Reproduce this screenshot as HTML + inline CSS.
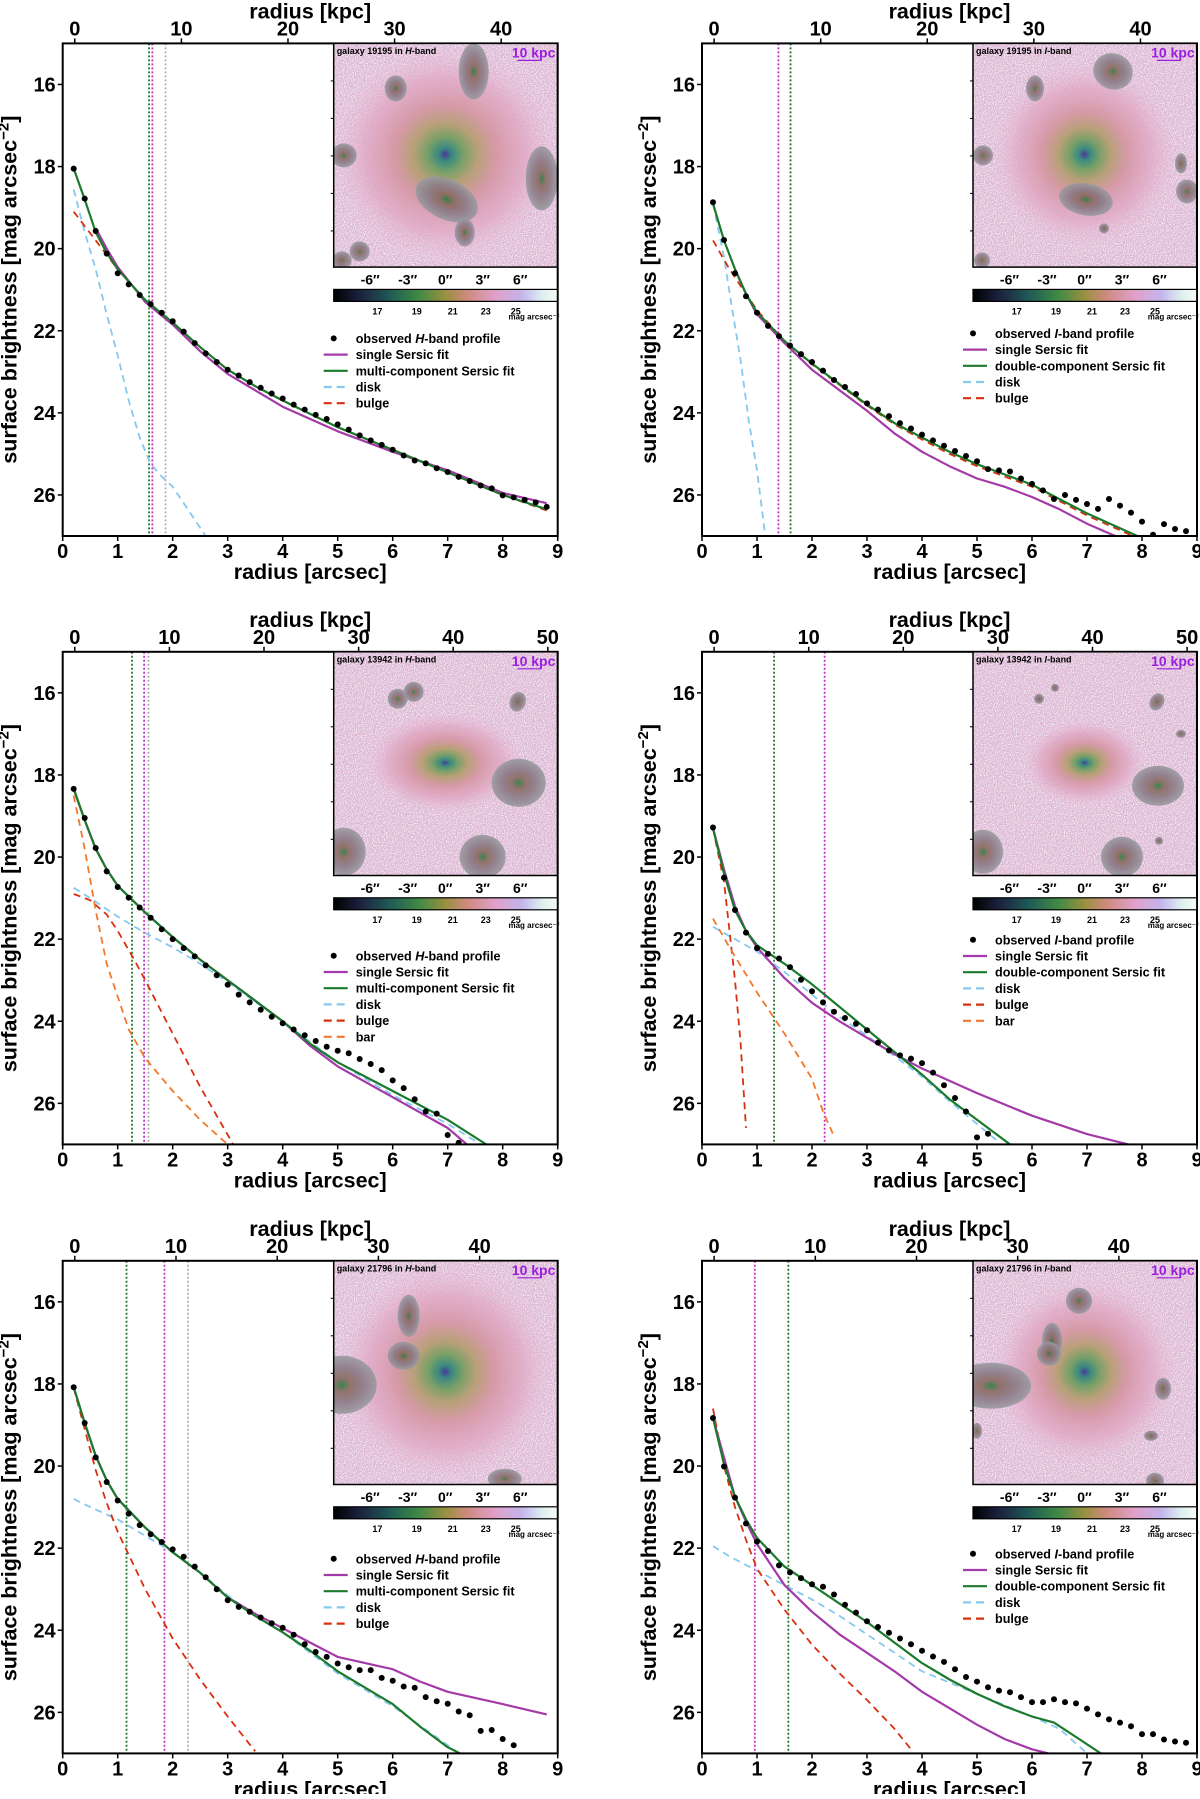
<!DOCTYPE html>
<html><head><meta charset="utf-8">
<style>
html,body{margin:0;padding:0;background:#fff;}
svg text{font-family:"Liberation Sans","DejaVu Sans",sans-serif;font-weight:bold;fill:#000;}
</style></head>
<body>
<svg id="fig" xmlns="http://www.w3.org/2000/svg" width="1200" height="1794" viewBox="0 0 1200 1794">
<defs>
<linearGradient id="cbar" x1="0" x2="1" y1="0" y2="0">
<stop offset="0" stop-color="#000"/><stop offset="0.12" stop-color="#1c2240"/><stop offset="0.25" stop-color="#1f5a55"/><stop offset="0.38" stop-color="#3f8a45"/><stop offset="0.5" stop-color="#9a9040"/><stop offset="0.6" stop-color="#cf8a80"/><stop offset="0.72" stop-color="#e0a0c8"/><stop offset="0.84" stop-color="#c4b4ec"/><stop offset="0.93" stop-color="#dceef0"/><stop offset="1" stop-color="#f6fbf6"/>
</linearGradient>
<radialGradient id="gal">
<stop offset="0" stop-color="#4a3a9a"/><stop offset="0.06" stop-color="#3a8a80"/><stop offset="0.16" stop-color="#7aa068"/><stop offset="0.28" stop-color="#b8a078"/><stop offset="0.45" stop-color="#d69aa8"/><stop offset="0.7" stop-color="#e0a6c2" stop-opacity="0.75"/><stop offset="1" stop-color="#e8c0dc" stop-opacity="0"/>
</radialGradient>
<radialGradient id="obj">
<stop offset="0" stop-color="#2a7a40"/><stop offset="0.25" stop-color="#8a6a60"/><stop offset="0.6" stop-color="#8a7a86"/><stop offset="1" stop-color="#9a9aa0"/>
</radialGradient>
<filter id="noise" x="0" y="0" width="100%" height="100%">
<feTurbulence type="fractalNoise" baseFrequency="0.9" numOctaves="1" seed="3"/>
<feColorMatrix values="0 0 0 0 1  0 0 0 0 1  0 0 0 0 1  3.2 0 0 0 -1.35"/>
</filter>
</defs>
</svg>
<script>
const RGRID=[0.2,0.4,0.6,0.8,1.0,1.2,1.4,1.6,1.8,2.0,2.2,2.4,2.6,2.8,3.0,3.2,3.4,3.6,3.8,4.0,4.2,4.4,4.6,4.8,5.0,5.2,5.4,5.6,5.8,6.0,6.2,6.4,6.6,6.8,7.0,7.2,7.4,7.6,7.8,8.0,8.2,8.4,8.6,8.8];

const P1_obs=[18.05,18.78,19.57,20.12,20.6,20.87,21.13,21.35,21.56,21.77,22.02,22.3,22.55,22.76,22.95,23.09,23.25,23.39,23.53,23.65,23.8,23.92,24.05,24.15,24.28,24.41,24.55,24.67,24.78,24.9,25.04,25.16,25.23,25.35,25.44,25.56,25.66,25.77,25.84,26.01,26.06,26.12,26.18,26.29];
const P1_singleR=[0.6,0.8,1,1.5,2,2.5,3,3.5,4,5,6,7,8,8.8];
const P1_single=[19.5,20.0,20.45,21.3,21.85,22.5,23.05,23.45,23.85,24.45,24.95,25.4,25.95,26.2];
const P1_multiR=[0.2,0.4,0.6,0.8,1,1.5,2,2.5,3,3.5,4,5,6,7,8,8.8];
const P1_multi=[18.05,18.8,19.6,20.1,20.5,21.25,21.8,22.4,22.95,23.35,23.7,24.35,24.9,25.45,26.0,26.35];
const P1_diskR=[0.2,0.4,0.6,0.8,1.0,1.2,1.4,1.6,1.8,2.0,2.3,2.6];
const P1_disk=[18.56,19.6,20.5,21.6,22.6,23.7,24.6,25.25,25.55,25.8,26.4,27.0];
const P1_bulgeR=[0.2,0.6,1,1.5,2,2.5,3,3.5,4,5,6,7,8,8.8];
const P1_bulge=[19.1,19.8,20.5,21.25,21.8,22.4,22.95,23.35,23.7,24.35,24.9,25.45,26.0,26.38];
const P1_vlines=[1.57,1.63,1.87];

const P2_obs=[18.87,19.79,20.6,21.16,21.56,21.88,22.13,22.36,22.57,22.76,22.97,23.2,23.37,23.54,23.77,23.92,24.08,24.25,24.38,24.53,24.67,24.8,24.93,25.05,25.18,25.37,25.4,25.43,25.6,25.73,25.89,26.1,26.0,26.12,26.22,26.34,26.1,26.26,26.43,26.65,26.97,26.71,26.83,26.88];
const P2_multiR=[0.2,0.4,0.6,0.8,1,1.5,2,2.5,3,3.5,4,4.5,5,5.5,6,6.5,7,7.5,8];
const P2_multi=[18.9,19.8,20.5,21.1,21.55,22.25,22.8,23.3,23.8,24.25,24.6,24.95,25.25,25.5,25.75,26.1,26.45,26.75,27.05];
const P2_singleR=[0.6,0.8,1,1.5,2,2.5,3,3.5,4,4.5,5,5.5,6,6.5,7,7.6];
const P2_single=[20.5,21.1,21.6,22.3,22.95,23.45,23.95,24.5,24.95,25.3,25.6,25.8,26.05,26.35,26.7,27.05];
const P2_diskR=[0.2,0.4,0.55,0.7,0.85,1.0,1.15];
const P2_disk=[18.9,20.2,21.5,22.7,24.2,25.4,27.0];
const P2_bulgeR=[0.2,0.5,1,1.5,2,2.5,3,3.5,4,4.5,5,5.5,6,6.5,7,7.5,8];
const P2_bulge=[19.8,20.5,21.5,22.25,22.82,23.32,23.82,24.28,24.65,25.0,25.3,25.55,25.8,26.15,26.5,26.8,27.1];
const P2_vlines=[1.39,1.61];

const P3_obs=[18.34,19.05,19.78,20.35,20.73,20.99,21.23,21.48,21.76,22.0,22.22,22.42,22.64,22.88,23.11,23.35,23.54,23.72,23.89,24.05,24.2,24.34,24.48,24.62,24.72,24.78,24.92,25.04,25.19,25.44,25.63,25.9,26.2,26.25,26.77,26.96];
const P3_multiR=[0.2,0.4,0.6,0.8,1,1.5,2,2.5,3,3.5,4,4.5,5,6,7,7.7];
const P3_multi=[18.34,19.1,19.8,20.3,20.7,21.35,21.95,22.5,23.0,23.5,24.0,24.55,25.0,25.7,26.4,27.0];
const P3_singleR=[0.2,0.4,0.6,0.8,1,1.5,2,2.5,3,3.5,4,4.5,5,6,7,7.35];
const P3_single=[18.34,19.1,19.8,20.3,20.7,21.35,21.95,22.5,23.0,23.5,24.0,24.6,25.1,25.85,26.6,27.0];
const P3_diskR=[0.2,0.5,1,1.5,2,2.5,3,4,5,6,7,7.6];
const P3_disk=[20.75,21.0,21.45,21.85,22.2,22.6,23.05,24.0,25.0,25.8,26.5,27.0];
const P3_bulgeR=[0.2,0.5,0.8,1,1.3,1.5,2,2.5,3.1];
const P3_bulge=[20.9,21.05,21.4,21.8,22.5,23.0,24.3,25.6,27.0];
const P3_barR=[0.2,0.4,0.6,0.8,1.0,1.2,1.5,2.0,2.5,3.0];
const P3_bar=[18.5,19.8,21.3,22.6,23.4,24.2,24.9,25.7,26.4,27.0];
const P3_vlines=[1.26,1.48,1.56];

const P4_obs=[19.28,20.5,21.29,21.84,22.22,22.36,22.47,22.68,22.99,23.27,23.54,23.77,23.92,24.06,24.22,24.52,24.71,24.83,24.91,25.02,25.25,25.56,25.87,26.2,26.83,26.74];
const P4_multiR=[0.2,0.4,0.6,0.8,1,1.5,2,2.5,3,3.5,4,4.5,5,5.6];
const P4_multi=[19.3,20.4,21.3,21.8,22.15,22.6,23.1,23.65,24.2,24.75,25.3,25.9,26.4,27.0];
const P4_singleR=[0.2,0.4,0.6,0.8,1,1.5,2,2.5,3,3.5,4,5,6,7,7.75];
const P4_single=[19.3,20.3,21.2,21.8,22.2,22.95,23.55,24.0,24.4,24.8,25.15,25.75,26.3,26.75,27.0];
const P4_diskR=[0.2,1,1.5,2,2.5,3,3.5,4,4.5,5,5.4];
const P4_disk=[21.7,22.3,22.8,23.35,23.9,24.35,24.85,25.35,25.95,26.5,26.95];
const P4_bulgeR=[0.2,0.4,0.5,0.6,0.7,0.8];
const P4_bulge=[19.3,20.6,21.8,23.0,24.5,26.6];
const P4_barR=[0.2,0.5,1,1.5,2,2.2,2.4];
const P4_bar=[21.5,22.2,23.3,24.3,25.4,26.2,26.8];
const P4_vlines=[1.31,2.23];

const P5_obs=[18.08,18.95,19.79,20.39,20.84,21.16,21.44,21.66,21.85,22.03,22.21,22.45,22.71,23.0,23.27,23.43,23.55,23.69,23.83,23.94,24.11,24.34,24.53,24.65,24.81,24.9,24.97,24.97,25.16,25.23,25.37,25.4,25.63,25.73,25.79,25.98,26.07,26.45,26.43,26.65,26.8];
const P5_multiR=[0.2,0.4,0.6,0.8,1,1.5,2,2.5,3,3.5,4,4.5,5,5.5,6,6.5,7,7.3];
const P5_multi=[18.08,18.95,19.75,20.35,20.8,21.5,22.1,22.6,23.2,23.65,24.05,24.5,25.0,25.4,25.8,26.35,26.85,27.05];
const P5_singleR=[0.2,0.4,0.6,0.8,1,1.5,2,2.5,3,3.5,4,4.5,5,5.5,6,6.5,7,8,8.8];
const P5_single=[18.08,18.95,19.75,20.35,20.8,21.5,22.1,22.6,23.2,23.6,23.95,24.3,24.65,24.8,24.95,25.25,25.5,25.8,26.05];
const P5_diskR=[0.2,0.5,1,1.5,2,2.5,3,3.5,4,5,6,7,7.2];
const P5_disk=[20.8,21.0,21.3,21.7,22.1,22.6,23.15,23.65,24.05,25.05,25.85,26.8,27.0];
const P5_bulgeR=[0.2,0.4,0.6,0.8,1,1.5,2,2.5,3,3.5];
const P5_bulge=[18.1,19.1,20.1,20.9,21.6,23.0,24.2,25.2,26.1,26.95];
const P5_vlines=[1.16,1.85,2.28];

const P6_obs=[18.83,20.01,20.77,21.4,21.84,22.07,22.42,22.59,22.73,22.88,22.94,23.13,23.38,23.57,23.78,23.92,24.06,24.2,24.34,24.5,24.64,24.77,24.95,25.14,25.25,25.39,25.47,25.51,25.63,25.75,25.75,25.68,25.75,25.78,25.91,26.05,26.17,26.25,26.34,26.53,26.53,26.66,26.71,26.74];
const P6_multiR=[0.2,0.4,0.6,0.8,1,1.5,2,2.5,3,3.5,4,4.5,5,5.5,6,6.4,6.8,7.25];
const P6_multi=[18.83,19.95,20.75,21.3,21.75,22.45,22.9,23.35,23.8,24.3,24.8,25.2,25.55,25.85,26.1,26.25,26.6,27.0];
const P6_singleR=[0.2,0.6,0.8,1,1.5,2,2.5,3,3.5,4,4.5,5,5.5,6,6.3];
const P6_single=[18.83,20.75,21.35,21.9,22.9,23.55,24.1,24.55,25.0,25.5,25.9,26.3,26.65,26.9,27.0];
const P6_diskR=[0.2,0.5,1,1.5,2,2.5,3,3.5,4,5,6,6.5,7];
const P6_disk=[21.95,22.2,22.55,22.9,23.25,23.65,24.1,24.55,25.0,25.55,26.1,26.4,27.0];
const P6_bulgeR=[0.2,0.4,0.6,0.8,1,1.5,2,2.5,3,3.5,3.8];
const P6_bulge=[18.6,20.0,21.0,21.8,22.5,23.5,24.35,25.05,25.7,26.4,26.9];
const P6_vlines=[0.96,1.57];

const X_TICKS=[0,1,2,3,4,5,6,7,8,9];
const Y_TICKS=[16,18,20,22,24,26];
const KPC_TICKS_A=[0,10,20,30,40];
const KPC_TICKS_B=[0,10,20,30,40,50];
const INSET_TICKS=[-6,-3,0,3,6];
const CBAR_TICKS=[17,19,21,23,25];

const svg=document.getElementById('fig');
const NS='http://www.w3.org/2000/svg';
function mk(tag,attrs,parent){const e=document.createElementNS(NS,tag);for(const k in attrs)e.setAttribute(k,attrs[k]);(parent||svg).appendChild(e);return e;}

const C={single:'#a43aa8',multi:'#1b7a2c',disk:'#86c8ee',bulge:'#d8300e',bar:'#f2782c',grey:'#b0b0b0',vmag:'#c82ec8'};
const W=495,H=492.6;

const panels=[
 {id:1,left:62.7,top:43.4,gal:'19195',band:'H',obs:P1_obs,kpc0:0.22,aPerKpc:0.1938,kt:KPC_TICKS_A,
  lines:[['disk',P1_diskR,P1_disk],['bulge',P1_bulgeR,P1_bulge],['single',P1_singleR,P1_single],['multi',P1_multiR,P1_multi]],
  vl:P1_vlines,vc:[C.multi,C.vmag,C.grey],leg:['obs','single','multi','disk','bulge'],multiLabel:'multi-component Sersic fit',legY:295,
  objs:[[140,28,15,28,0],[62,45,11,13,0],[10,112,13,12,0],[113,156,33,20,25],[131,189,10,14,0],[208,135,16,32,0],[26,208,10,10,0],[8,217,10,9,0]],galR:[115,110]},
 {id:2,left:702,top:43.4,gal:'19195',band:'I',obs:P2_obs,kpc0:0.22,aPerKpc:0.1938,kt:KPC_TICKS_A,
  lines:[['disk',P2_diskR,P2_disk],['bulge',P2_bulgeR,P2_bulge],['single',P2_singleR,P2_single],['multi',P2_multiR,P2_multi]],
  vl:P2_vlines,vc:[C.vmag,C.multi],leg:['obs','single','multi','disk','bulge'],multiLabel:'double-component Sersic fit',legY:290,
  objs:[[140,28,20,18,20],[62,45,9,13,0],[10,112,10,10,0],[113,156,27,16,10],[131,185,5,5,0],[208,120,6,10,0],[214,148,11,12,0],[9,217,8,8,0]],galR:[95,95]},
 {id:3,left:62.7,top:651.8,gal:'13942',band:'H',obs:P3_obs,kpc0:0.22,aPerKpc:0.172,kt:KPC_TICKS_B,
  lines:[['disk',P3_diskR,P3_disk],['bulge',P3_bulgeR,P3_bulge],['bar',P3_barR,P3_bar],['single',P3_singleR,P3_single],['multi',P3_multiR,P3_multi]],
  vl:P3_vlines,vc:[C.multi,C.vmag,C.grey],leg:['obs','single','multi','disk','bulge','bar'],multiLabel:'multi-component Sersic fit',legY:304,
  objs:[[64,47,10,10,0],[80,40,10,10,0],[184,50,8,10,20],[185,131,27,24,0],[10,200,22,24,0],[149,205,23,22,0]],galR:[80,52]},
 {id:4,left:702,top:651.8,gal:'13942',band:'I',obs:P4_obs,kpc0:0.22,aPerKpc:0.172,kt:KPC_TICKS_B,
  lines:[['disk',P4_diskR,P4_disk],['bulge',P4_bulgeR,P4_bulge],['bar',P4_barR,P4_bar],['single',P4_singleR,P4_single],['multi',P4_multiR,P4_multi]],
  vl:P4_vlines,vc:[C.multi,C.vmag],leg:['obs','single','multi','disk','bulge','bar'],multiLabel:'double-component Sersic fit',legY:288,
  objs:[[66,47,5,5,0],[82,36,4,4,0],[184,50,7,9,30],[208,82,5,4,0],[185,134,26,20,0],[10,200,20,22,0],[149,205,21,20,0],[186,189,4,4,0]],galR:[62,44]},
 {id:5,left:62.7,top:1260.8,gal:'21796',band:'H',obs:P5_obs,kpc0:0.22,aPerKpc:0.184,kt:KPC_TICKS_A,
  lines:[['disk',P5_diskR,P5_disk],['bulge',P5_bulgeR,P5_bulge],['single',P5_singleR,P5_single],['multi',P5_multiR,P5_multi]],
  vl:P5_vlines,vc:[C.multi,C.vmag,C.grey],leg:['obs','single','multi','disk','bulge'],multiLabel:'multi-component Sersic fit',legY:298,
  objs:[[75,55,11,21,0],[70,95,16,14,0],[8,124,35,29,0],[171,218,17,10,0]],galR:[110,110]},
 {id:6,left:702,top:1260.8,gal:'21796',band:'I',obs:P6_obs,kpc0:0.22,aPerKpc:0.184,kt:KPC_TICKS_A,
  lines:[['disk',P6_diskR,P6_disk],['bulge',P6_bulgeR,P6_bulge],['single',P6_singleR,P6_single],['multi',P6_multiR,P6_multi]],
  vl:P6_vlines,vc:[C.vmag,C.multi],leg:['obs','single','multi','disk','bulge'],multiLabel:'double-component Sersic fit',legY:293,
  objs:[[106,40,13,13,0],[79,80,10,18,0],[76,93,12,12,0],[18,125,40,23,0],[190,128,8,11,0],[178,175,7,5,0],[182,220,9,8,0],[4,170,5,8,0]],galR:[95,95]}
];

function drawPanel(p){
 const g=mk('g',{});
 
 
 const L=p.left,T=p.top;
 const xs=r=>L+r*W/9, ys=m=>T+(m-15)*H/12;
 const cid='clip'+p.id;
 const cp=mk('clipPath',{id:cid},g); mk('rect',{x:L,y:T,width:W,height:H},cp);
 const plot=mk('g',{'clip-path':'url(#'+cid+')'},g);
 
 
 p.vl.forEach((v,i)=>{const l=mk('line',{x1:xs(v),x2:xs(v),y1:T,y2:T+H,stroke:p.vc[i],'stroke-width':1.8,'stroke-dasharray':'2 2'},plot);
  
  });
 p.lines.forEach(([k,R,M])=>{
  const d=R.map((r,i)=>(i?'L':'M')+xs(r).toFixed(1)+' '+ys(M[i]).toFixed(1)).join(' ');
  const dashed=(k==='disk'||k==='bulge'||k==='bar');
  const pa=mk('path',{d:d,fill:'none',stroke:C[k],'stroke-width':dashed?1.8:2.2,'stroke-dasharray':dashed?'7 5':'none','stroke-linejoin':'round'},plot);
  
  
 });
 p.obs.forEach((m,i)=>{const c=mk('circle',{cx:xs(RGRID[i]),cy:ys(m),r:3,fill:'#000'},plot);
  
  });
 const fr=mk('rect',{x:L,y:T,width:W,height:H,fill:'none',stroke:'#000','stroke-width':2},g);
 
 
 X_TICKS.forEach(t=>{mk('line',{x1:xs(t),x2:xs(t),y1:T+H,y2:T+H+5,stroke:'#000','stroke-width':1.5},g);
  const tx=mk('text',{x:xs(t),y:T+H+22,'text-anchor':'middle','font-size':20},g);tx.textContent=t;
  
  });
 const xl=mk('text',{x:L+W/2,y:T+H+43,'text-anchor':'middle','font-size':21.5},g);xl.textContent='radius [arcsec]';
 
 
 p.kt.forEach(t=>{const xx=xs(p.kpc0+t*p.aPerKpc);mk('line',{x1:xx,x2:xx,y1:T,y2:T-5,stroke:'#000','stroke-width':1.5},g);
  const tx=mk('text',{x:xx,y:T-8,'text-anchor':'middle','font-size':20},g);tx.textContent=t;
  
  });
 const tl=mk('text',{x:L+W/2,y:T-25,'text-anchor':'middle','font-size':21.5},g);tl.textContent='radius [kpc]';
 
 
 Y_TICKS.forEach(t=>{mk('line',{x1:L,x2:L-5,y1:ys(t),y2:ys(t),stroke:'#000','stroke-width':1.5},g);
  const tx=mk('text',{x:L-7,y:ys(t)+7,'text-anchor':'end','font-size':20},g);tx.textContent=t;
  
  });
 const yl=mk('text',{x:0,y:0,'text-anchor':'middle','font-size':21.5,transform:'translate('+(L-46)+','+(T+H/2)+') rotate(-90)'},g);
 
 
 yl.appendChild(document.createTextNode('surface brightness [mag arcsec'));
 const sup=mk('tspan',{dy:-8,'font-size':15},yl);sup.textContent='\u22122';
 const cl=mk('tspan',{dy:8},yl);cl.textContent=']';
 const ix=L+271, iy=T, iw=223.7;
 const ins=mk('g',{},g);
 
 
 const icp=mk('clipPath',{id:'iclip'+p.id},ins); mk('rect',{x:ix,y:iy,width:iw,height:iw},icp);
 const ig=mk('g',{'clip-path':'url(#iclip'+p.id+')'},ins);
 mk('rect',{x:ix,y:iy,width:iw,height:iw,fill:'#dcb6d4'},ig);
 mk('rect',{x:ix,y:iy,width:iw,height:iw,filter:'url(#noise)',opacity:0.85},ig);
 mk('ellipse',{cx:ix+111.5,cy:iy+111,rx:p.galR[0],ry:p.galR[1],fill:'url(#gal)'},ig);
 p.objs.forEach(o=>{const e=mk('ellipse',{cx:ix+o[0],cy:iy+o[1],rx:o[2],ry:o[3],fill:'url(#obj)',opacity:0.9,transform:'rotate('+o[4]+' '+(ix+o[0])+' '+(iy+o[1])+')'},ig);
  
  });
 mk('rect',{x:ix,y:iy,width:iw,height:iw,fill:'none',stroke:'#000','stroke-width':1.5},ins);
 for(let k=1;k<=5;k++) mk('line',{x1:ix,x2:ix-3,y1:iy+k*37.5,y2:iy+k*37.5,stroke:'#000','stroke-width':1},ins);
 const it=mk('text',{x:ix+3,y:iy+10.5,'font-size':9},ins);
 
 
 it.appendChild(document.createTextNode('galaxy '+p.gal+' in '));
 const itb=mk('tspan',{'font-style':'italic'},it);itb.textContent=p.band;
 it.appendChild(document.createTextNode('-band'));
 const sk=mk('text',{x:ix+iw-2,y:iy+14,'text-anchor':'end','font-size':14,style:'fill:#9b1ee0'},ins);sk.textContent='10 kpc';
 
 
 mk('line',{x1:ix+iw-40,x2:ix+iw-16,y1:iy+17,y2:iy+17,stroke:'#9b1ee0','stroke-width':1.2},ins);
 INSET_TICKS.forEach(t=>{const tx=mk('text',{x:ix+111.5+t*12.5,y:iy+241,'text-anchor':'middle','font-size':14},ins);tx.textContent=t+'\u2033';
  
  });
 const cb=mk('rect',{x:ix,y:iy+246,width:iw,height:12,fill:'url(#cbar)',stroke:'#000','stroke-width':1.2},ins);
 
 
 CBAR_TICKS.forEach((t,i)=>{const px=ix+[43.7,83,119,152,182][i];
  const tx=mk('text',{x:px,y:iy+271,'text-anchor':'middle','font-size':9},ins);tx.textContent=t;
  
  });
 const cu=mk('text',{x:ix+iw+2,y:iy+276,'text-anchor':'end','font-size':8},ins);cu.textContent='mag arcsec\u207B\u00B2';
 
 
 const lg=mk('g',{},g);
 
 
 const lx=L+261, tx0=L+293;
 p.leg.forEach((k,i)=>{
  const yy=T+p.legY+i*16.2;
  const en=mk('g',{},lg);
  
  
  if(k==='obs'){mk('circle',{cx:lx+10,cy:yy,r:3,fill:'#000'},en);}
  else{const dashed=(k==='disk'||k==='bulge'||k==='bar');
   mk('line',{x1:lx,x2:lx+24,y1:yy,y2:yy,stroke:C[k],'stroke-width':2.2,'stroke-dasharray':dashed?'8 5':'none'},en);}
  const t=mk('text',{x:tx0,y:yy+4.5,'font-size':12.6},en);
  if(k==='obs'){t.appendChild(document.createTextNode('observed '));const s=mk('tspan',{'font-style':'italic'},t);s.textContent=p.band;t.appendChild(document.createTextNode('-band profile'));}
  else t.textContent={single:'single Sersic fit',multi:p.multiLabel,disk:'disk',bulge:'bulge',bar:'bar'}[k];
 });
}
panels.forEach(drawPanel);
</script>
</body></html>
